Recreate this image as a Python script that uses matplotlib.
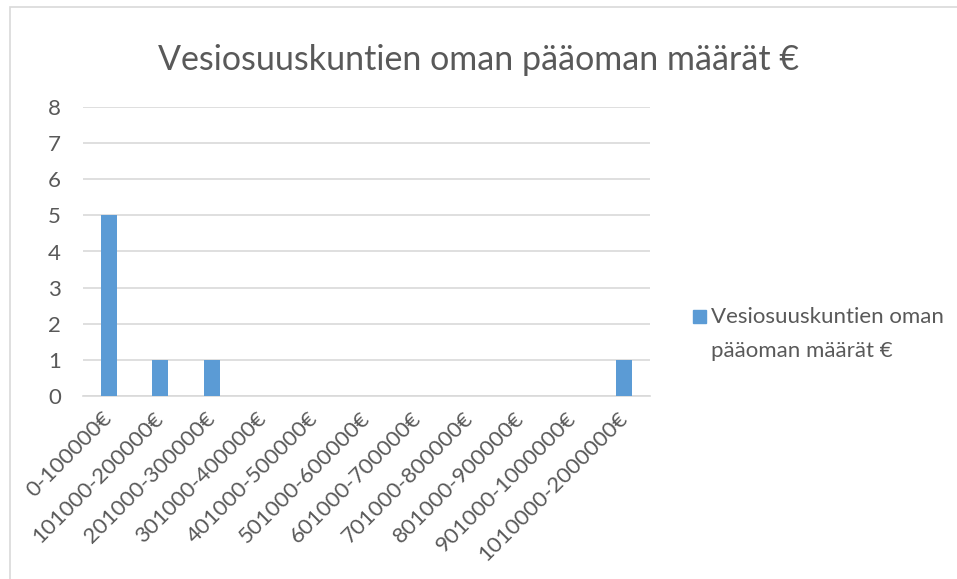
import numpy as np
import matplotlib.pyplot as plt
from matplotlib.patches import Rectangle

# Tiedot
luokat = ['0-100000€', '101000-200000€', '201000-300000€', '301000-400000€',
          '401000-500000€', '501000-600000€', '601000-700000€', '701000-800000€',
          '801000-900000€', '901000-1000000€', '1010000-2000000€']
maarat = [5, 1, 1, 0, 0, 0, 0, 0, 0, 0, 1]
otsikko = 'Vesiosuuskuntien oman pääoman määrät €'
sarjan_nimi = 'Vesiosuuskuntien oman\npääoman määrät €'

teksti = '#595959'
sininen = '#5b9bd5'
plt.rcParams['font.family'] = ['Lato', 'DejaVu Sans']

W, H = 957, 579
fig = plt.figure(figsize=(W / 100, H / 100), dpi=100)

# Kaavion reunus (oikea ja ala reuna jäävät kuvan ulkopuolelle)
fig.patches.append(Rectangle((10 / W, -0.1), 1.1, 1 - 7 / H + 0.1, transform=fig.transFigure,
                             fill=False, edgecolor='#d9d9d9', linewidth=1.2))

ax = fig.add_axes([83 / W, 1 - 396 / H, (650 - 83) / W, (396 - 107) / H])
x = np.arange(len(luokat))
ax.bar(x, maarat, width=0.31, color=sininen, zorder=3)
ax.set_xlim(-0.5, len(luokat) - 0.5)
ax.set_ylim(0, 8)
ax.set_yticks(range(0, 9))
ax.yaxis.grid(True, color='#d9d9d9', linewidth=1.2, zorder=0)
for s in ['top', 'right', 'left']:
    ax.spines[s].set_visible(False)
ax.spines['bottom'].set_color('#d9d9d9')
ax.spines['bottom'].set_linewidth(1.2)
ax.tick_params(axis='both', length=0, colors=teksti, labelsize=16)
ax.tick_params(axis='y', pad=16)
ax.set_xticks(x)
ax.set_xticklabels(luokat, rotation=45, ha='right', va='center', rotation_mode='anchor')
ax.tick_params(axis='x', pad=14)

fig.text(0.5, 1 - 70 / H, otsikko, ha='center', va='baseline', fontsize=24.5, color=teksti)

# Selite
fig.patches.append(Rectangle((693 / W, 1 - 323 / H), 13 / W, 13 / H, transform=fig.transFigure,
                             color=sininen))
fig.text(711 / W, 1 - 307 / H, sarjan_nimi, ha='left', va='top', fontsize=16,
         color=teksti, linespacing=1.9, multialignment='left')

fig.savefig('out.png', dpi=100, facecolor='white')
